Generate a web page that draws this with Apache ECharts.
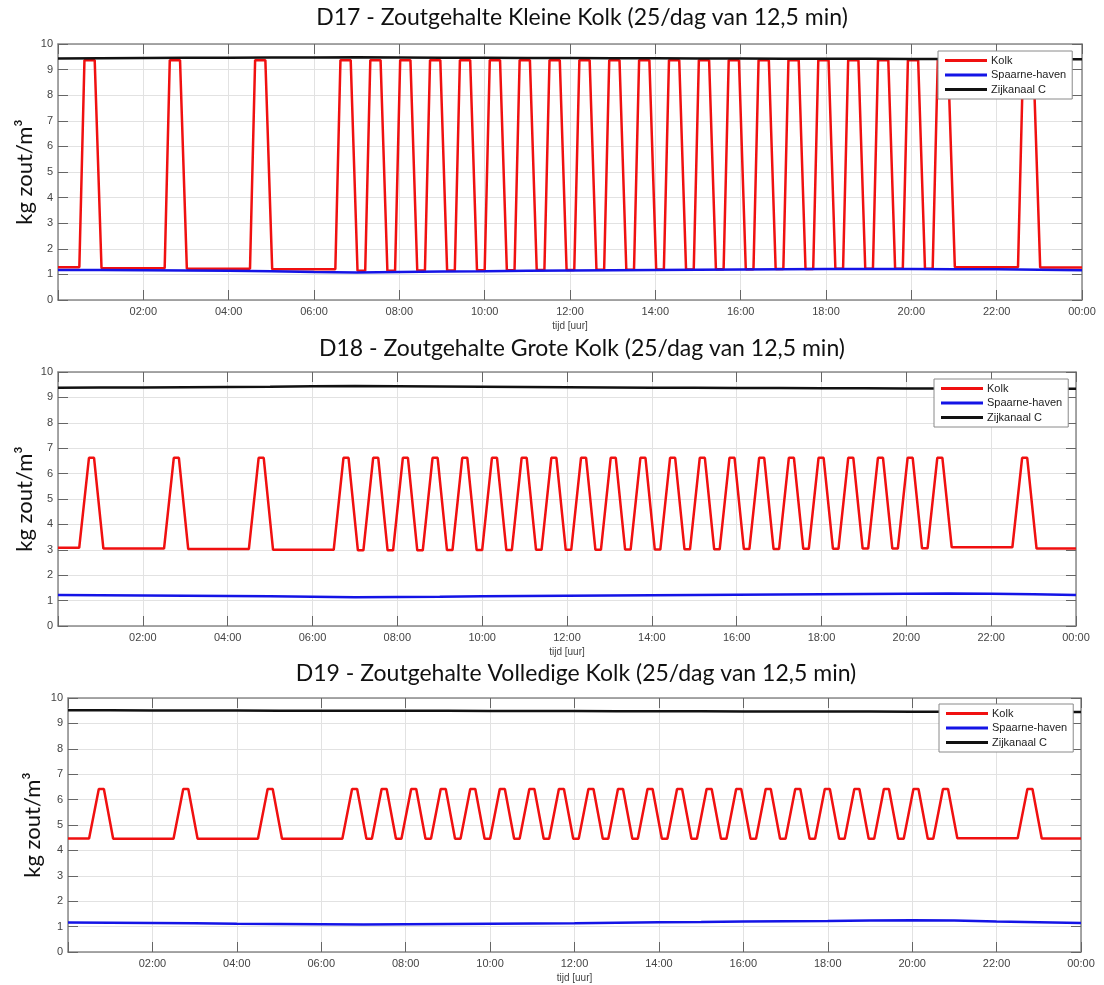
<!DOCTYPE html>
<html>
<head>
<meta charset="utf-8">
<title>Zoutgehalte kolken</title>
<script src="https://cdn.jsdelivr.net/npm/echarts@6/dist/echarts.min.js"></script>
<style>
  html, body { margin: 0; padding: 0; background: #ffffff; }
  #chart { width: 1104px; height: 985px; }
</style>
</head>
<body>
<div id="chart"></div>
<script>
// Hourly sample times for the slowly varying harbour / canal series (hours 0..24)
const hours = [0, 1, 2, 3, 4, 5, 6, 7, 8, 9, 10, 11, 12, 13, 14, 15, 16, 17, 18, 19, 20, 21, 22, 23, 24];

// Start of each lockage (hours), 25 per day
const lockStarts = [0.5, 2.5, 4.5,
  6.5, 7.2, 7.9, 8.6, 9.3, 10.0, 10.7, 11.4, 12.1, 12.8, 13.5, 14.2, 14.9,
  15.6, 16.3, 17.0, 17.7, 18.4, 19.1, 19.8, 20.5,
  22.5];

// D17 - Kleine Kolk
const kolkBaseD17 = [1.28, 1.24, 1.22, 1.2,
  1.14, 1.14, 1.15, 1.15, 1.16, 1.16, 1.17, 1.17, 1.18, 1.18,
  1.19, 1.19, 1.2, 1.2, 1.21, 1.21, 1.22, 1.22, 1.22, 1.22,
  1.28, 1.27];
const kolkPeakD17 = 9.37;
const rampD17 = { rise: 0.12, top: 0.24, fall: 0.16 };
const spaarneD17 = [1.17, 1.17, 1.16, 1.15, 1.14, 1.12, 1.09, 1.07, 1.09, 1.11, 1.12, 1.14, 1.15,
  1.16, 1.17, 1.18, 1.19, 1.2, 1.21, 1.21, 1.21, 1.2, 1.2, 1.18, 1.16];
const zijkanaalD17 = [9.43, 9.44, 9.45, 9.46, 9.46, 9.47, 9.47, 9.48, 9.47, 9.46, 9.46, 9.45, 9.45,
  9.44, 9.44, 9.43, 9.43, 9.42, 9.42, 9.42, 9.41, 9.41, 9.4, 9.4, 9.4];

// D18 - Grote Kolk
const kolkBaseD18 = [3.08, 3.05, 3.03, 3.0,
  2.98, 2.98, 2.98, 2.99, 2.99, 2.99, 3.0, 3.0, 3.0, 3.01,
  3.01, 3.02, 3.02, 3.03, 3.03, 3.04, 3.04, 3.05, 3.05, 3.06,
  3.1, 3.05];
const kolkPeakD18 = 6.62;
const rampD18 = { rise: 0.23, top: 0.12, fall: 0.22 };
const spaarneD18 = [1.22, 1.21, 1.2, 1.19, 1.18, 1.17, 1.15, 1.13, 1.14, 1.15, 1.17, 1.18, 1.19,
  1.2, 1.21, 1.22, 1.23, 1.24, 1.25, 1.26, 1.27, 1.28, 1.27, 1.25, 1.22];
const zijkanaalD18 = [9.38, 9.39, 9.39, 9.4, 9.41, 9.42, 9.44, 9.45, 9.44, 9.43, 9.42, 9.41, 9.4,
  9.39, 9.38, 9.38, 9.37, 9.37, 9.36, 9.36, 9.35, 9.35, 9.35, 9.34, 9.34];

// D19 - Volledige Kolk
const kolkBaseD19 = [4.47, 4.46, 4.46, 4.46,
  4.46, 4.46, 4.46, 4.46, 4.46, 4.46, 4.46, 4.46, 4.46, 4.46,
  4.46, 4.46, 4.46, 4.46, 4.46, 4.46, 4.46, 4.46, 4.46, 4.46,
  4.48, 4.47];
const kolkPeakD19 = 6.42;
const rampD19 = { rise: 0.23, top: 0.12, fall: 0.22 };
const spaarneD19 = [1.16, 1.15, 1.14, 1.13, 1.11, 1.1, 1.09, 1.08, 1.09, 1.1, 1.11, 1.12, 1.13,
  1.15, 1.17, 1.18, 1.2, 1.21, 1.22, 1.24, 1.25, 1.24, 1.2, 1.17, 1.14];
const zijkanaalD19 = [9.52, 9.52, 9.51, 9.51, 9.51, 9.5, 9.5, 9.5, 9.5, 9.5, 9.49, 9.49, 9.49,
  9.48, 9.48, 9.48, 9.47, 9.47, 9.47, 9.47, 9.46, 9.46, 9.46, 9.45, 9.45];

const titles = [
  'D17 - Zoutgehalte Kleine Kolk (25/dag van 12,5 min)',
  'D18 - Zoutgehalte Grote Kolk (25/dag van 12,5 min)',
  'D19 - Zoutgehalte Volledige Kolk (25/dag van 12,5 min)'
];
const seriesNames = ['Kolk', 'Spaarne-haven', 'Zijkanaal C'];
const yTicks = [0, 10, 1];       // min, max, step
const xTicks = [0, 24, 2];       // hours
const yName = 'kg zout/m\u00B3';
const xName = 'tijd [uur]';

// Trapezoid trace of the lock chamber salinity: base -> ramp up -> plateau -> ramp down
function kolkTrace(starts, base, peak, ramp) {
  const pts = [[0, base[0]]];
  starts.forEach((s, i) => {
    pts.push([s, base[i]]);
    pts.push([s + ramp.rise, peak]);
    pts.push([s + ramp.rise + ramp.top, peak]);
    pts.push([s + ramp.rise + ramp.top + ramp.fall, base[i + 1]]);
  });
  pts.push([24, base[starts.length]]);
  return pts;
}
const zipHours = vals => hours.map((h, i) => [h, vals[i]]);

const panels = [
  { kolk: kolkTrace(lockStarts, kolkBaseD17, kolkPeakD17, rampD17), spaarne: spaarneD17, zijkanaal: zijkanaalD17,
    grid: { left: 58, top: 44, width: 1024, height: 256 }, titleTop: 6, titleX: 582, nameGap: 22,
    legend: { left: 938, top: 51 } },
  { kolk: kolkTrace(lockStarts, kolkBaseD18, kolkPeakD18, rampD18), spaarne: spaarneD18, zijkanaal: zijkanaalD18,
    grid: { left: 58, top: 372, width: 1018, height: 254 }, titleTop: 337, titleX: 582, nameGap: 22,
    legend: { left: 934, top: 379 } },
  { kolk: kolkTrace(lockStarts, kolkBaseD19, kolkPeakD19, rampD19), spaarne: spaarneD19, zijkanaal: zijkanaalD19,
    grid: { left: 68, top: 698, width: 1013, height: 254 }, titleTop: 662, titleX: 576, nameGap: 24,
    legend: { left: 939, top: 704 } }
];

const colors = ['#f01010', '#1414e6', '#111111'];
const boxColor = '#8a8a8a';
const tickColor = '#666666';
const gridColor = '#e2e2e2';
const tickFont = { fontFamily: 'Liberation Sans', fontSize: 11, color: '#444' };

function fmtHour(v) {
  if (v === 0) return '';
  const h = v % 24;
  return (h < 10 ? '0' : '') + h + ':00';
}

const option = {
  backgroundColor: '#ffffff',
  animation: false,
  title: [], grid: [], xAxis: [], yAxis: [], legend: [], series: []
};

panels.forEach((p, k) => {
  option.title.push({
    text: titles[k], left: p.titleX, top: p.titleTop, textAlign: 'center', padding: 0,
    textStyle: { fontFamily: 'Lato', fontSize: 23, fontWeight: 'normal', color: '#111' }
  });
  option.grid.push(Object.assign({ containLabel: false }, p.grid));
  // bottom time axis
  option.xAxis.push({
    type: 'value', gridIndex: k, min: xTicks[0], max: xTicks[1], interval: xTicks[2],
    name: xName, nameLocation: 'middle', nameGap: 21,
    nameTextStyle: { fontFamily: 'Liberation Sans', fontSize: 10, color: '#444' },
    axisLine: { onZero: false, lineStyle: { color: boxColor, width: 1.5 } },
    axisTick: { inside: true, length: 10, lineStyle: { color: tickColor, width: 1 } },
    axisLabel: Object.assign({ formatter: fmtHour, margin: 6, showMinLabel: true, showMaxLabel: true }, tickFont),
    splitLine: { show: true, lineStyle: { color: gridColor, width: 1 } },
    z: 3
  });
  // top frame axis
  option.xAxis.push({
    type: 'value', gridIndex: k, position: 'top', min: xTicks[0], max: xTicks[1], interval: xTicks[2],
    axisLine: { onZero: false, lineStyle: { color: boxColor, width: 1.5 } },
    axisTick: { inside: true, length: 10, lineStyle: { color: tickColor, width: 1 } },
    axisLabel: { show: false }, splitLine: { show: false }, z: 3
  });
  // left value axis
  option.yAxis.push({
    type: 'value', gridIndex: k, min: yTicks[0], max: yTicks[1], interval: yTicks[2],
    name: yName, nameLocation: 'middle', nameRotate: 90, nameGap: p.nameGap, nameMoveOverlap: false,
    nameTextStyle: { fontFamily: 'Lato', fontSize: 22, color: '#111' },
    axisLine: { show: true, onZero: false, lineStyle: { color: boxColor, width: 1.5 } },
    axisTick: { show: true, inside: true, length: 10, lineStyle: { color: tickColor, width: 1 } },
    axisLabel: Object.assign({ margin: 5 }, tickFont),
    splitLine: { show: true, lineStyle: { color: gridColor, width: 1 } },
    z: 3
  });
  // right frame axis
  option.yAxis.push({
    type: 'value', gridIndex: k, position: 'right', min: yTicks[0], max: yTicks[1], interval: yTicks[2],
    axisLine: { show: true, onZero: false, lineStyle: { color: boxColor, width: 1.5 } },
    axisTick: { show: true, inside: true, length: 10, lineStyle: { color: tickColor, width: 1 } },
    axisLabel: { show: false }, splitLine: { show: false }, z: 3
  });
  option.legend.push({
    data: seriesNames, orient: 'vertical', left: p.legend.left, top: p.legend.top,
    backgroundColor: '#ffffff', borderColor: '#8a8a8a', borderWidth: 1,
    padding: [4, 6, 4, 7], itemGap: 3.5, itemWidth: 42, itemHeight: 3, icon: 'rect',
    textStyle: { fontFamily: 'Liberation Sans', fontSize: 11, color: '#222', padding: [0, 0, 0, -1] },
    selectedMode: false, z: 10
  });
  const lines = [p.kolk, zipHours(p.spaarne), zipHours(p.zijkanaal)];
  lines.forEach((d, j) => {
    option.series.push({
      name: seriesNames[j], type: 'line', xAxisIndex: 2 * k, yAxisIndex: 2 * k,
      data: d, symbol: 'none', color: colors[j],
      lineStyle: { width: 2.5, color: colors[j] }, smooth: false
    });
  });
});

const chart = echarts.init(document.getElementById('chart'), null, { renderer: 'canvas' });
chart.setOption(option);
</script>
</body>
</html>
